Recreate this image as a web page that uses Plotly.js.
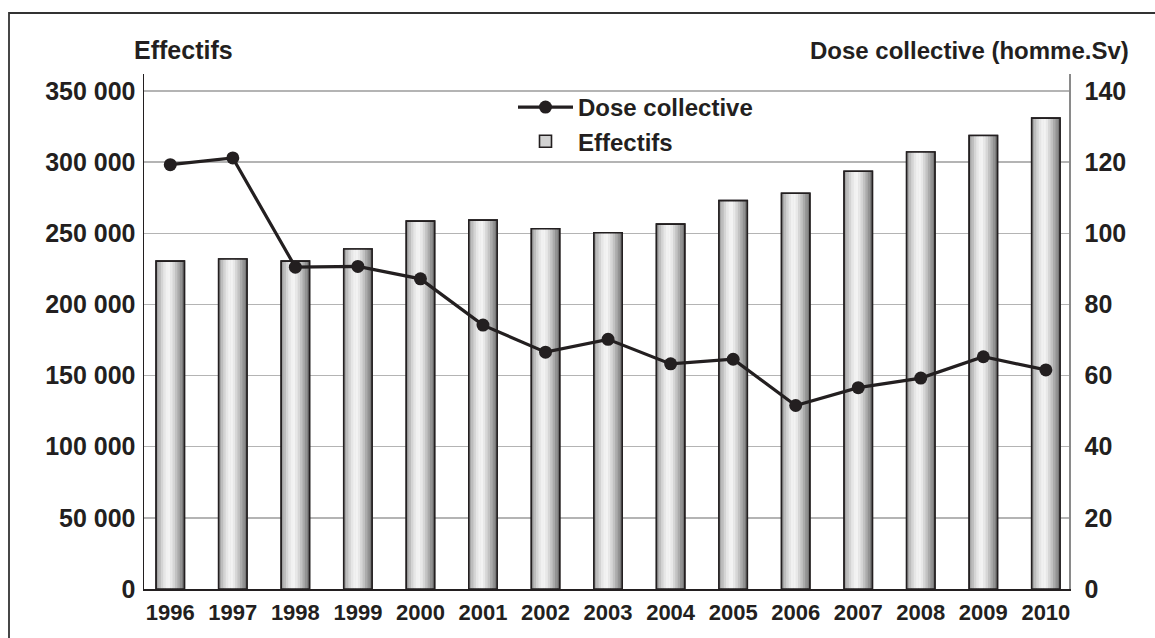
<!DOCTYPE html>
<html>
<head>
<meta charset="utf-8">
<script src="https://cdn.plot.ly/plotly-3.0.1.min.js"></script>
<style>html,body{margin:0;padding:0;background:#fff;}#chart{width:1155px;height:638px;}</style>
</head>
<body>
<div id="chart"></div>
<script>
// ---- data ----
var years = ['1996','1997','1998','1999','2000','2001','2002','2003','2004','2005','2006','2007','2008','2009','2010'];
var effectifs = [230500, 232000, 230500, 239000, 258600, 259300, 253200, 250400, 256500, 273000, 278200, 293600, 307200, 318800, 331000];
var dose = [119.3, 121.2, 90.5, 90.7, 87.2, 74.2, 66.6, 70.2, 63.3, 64.6, 51.6, 56.6, 59.3, 65.3, 61.6];
var leftTickVals = [0, 50000, 100000, 150000, 200000, 250000, 300000, 350000];
var leftTickText = ['0', '50 000', '100 000', '150 000', '200 000', '250 000', '300 000', '350 000'];
var rightTickVals = [0, 20, 40, 60, 80, 100, 120, 140];
var seriesNames = ['Dose collective', 'Effectifs'];
var titleLeft = 'Effectifs';
var titleRight = 'Dose collective (homme.Sv)';

// ---- style ----
var FONT = '"Liberation Sans", Arial, Helvetica, sans-serif';
var INK = '#231f20';
var barW = 0.452;
var stripColors = ['#a4a4a4','#bdbdbd','#d4d4d4','#e6e6e6','#f1f1f1','#f3f3f3','#e8e8e8','#d6d6d6','#c2c2c2','#ababab','#939393','#7a7a7a'];

var traces = [];
// base bar (legend entry)
traces.push({
  type: 'bar', x: years, y: effectifs, name: seriesNames[1], legendrank: 2,
  width: barW, marker: {color: '#d2d2d2', line: {color: INK, width: 1.6}},
  hoverinfo: 'skip'
});
// gradient strips
var n = stripColors.length, sw = barW / n;
for (var i = 0; i < n; i++) {
  traces.push({
    type: 'bar', x: years, y: effectifs, showlegend: false,
    width: sw + 0.004, offset: -barW / 2 + i * sw,
    marker: {color: stripColors[i], line: {width: 0}}, hoverinfo: 'skip'
  });
}
// outline on top
traces.push({
  type: 'bar', x: years, y: effectifs, showlegend: false,
  width: barW, marker: {color: 'rgba(0,0,0,0)', line: {color: INK, width: 1.6}},
  hoverinfo: 'skip'
});
// dose line
traces.push({
  type: 'scatter', mode: 'lines+markers', x: years, y: dose, yaxis: 'y2',
  name: seriesNames[0], legendrank: 1,
  line: {color: INK, width: 3.2}, marker: {color: INK, size: 13}
});

var W = 1155, H = 638, L = 144, R = 1069, T = 74, B = 589;
function px(x){ return (x - L) / (R - L); }
function py(y){ return (B - y) / (B - T); }

var layout = {
  width: W, height: H,
  margin: {l: L, r: W - R, t: T, b: H - B, pad: 0},
  paper_bgcolor: '#fff', plot_bgcolor: '#fff',
  barmode: 'overlay',
  showlegend: true,
  font: {family: FONT, color: INK, size: 24, weight: 'bold'},
  xaxis: {
    type: 'category', range: [-0.42, 14.37], showgrid: false, zeroline: false,
    showline: true, linecolor: INK, linewidth: 2, ticks: '', tickangle: 0,
    tickfont: {family: FONT, size: 22, color: INK, weight: 'bold'}, ticklabelstandoff: 3,
    fixedrange: true
  },
  yaxis: {
    range: [0, 362000], tickvals: leftTickVals, ticktext: leftTickText,
    showgrid: true, gridcolor: '#b4b4b4', gridwidth: 1.5, zeroline: false,
    showline: true, linecolor: INK, linewidth: 1.5, ticks: '',
    tickfont: {family: FONT, size: 25, color: INK, weight: 'bold'}, ticklabelstandoff: 2,
    fixedrange: true
  },
  yaxis2: {
    overlaying: 'y', side: 'right', range: [0, 144.8], tickvals: rightTickVals,
    showgrid: false, zeroline: false, showline: true, linecolor: '#8a8a8a', linewidth: 1.5,
    ticks: '', tickfont: {family: FONT, size: 25, color: INK, weight: 'bold'}, ticklabelstandoff: 9,
    fixedrange: true
  },
  legend: {
    x: px(513), y: py(85), xanchor: 'left', yanchor: 'top',
    bgcolor: 'rgba(255,255,255,0)', borderwidth: 0,
    font: {family: FONT, size: 24, color: INK, weight: 'bold'},
    tracegroupgap: 0, itemwidth: 55
  },
  annotations: [
    {text: titleLeft, xref: 'paper', yref: 'paper', x: px(132), y: py(50), xanchor: 'left', yanchor: 'middle', showarrow: false,
     font: {family: FONT, size: 25, color: INK, weight: 'bold'}},
    {text: titleRight, xref: 'paper', yref: 'paper', x: px(1131), y: py(50), xanchor: 'right', yanchor: 'middle', showarrow: false,
     font: {family: FONT, size: 24, color: INK, weight: 'bold'}}
  ],
  shapes: [
    {type: 'rect', xref: 'paper', yref: 'paper', x0: px(9), x1: px(1230), y0: py(700), y1: py(13),
     line: {color: '#333', width: 1.8}, fillcolor: 'rgba(0,0,0,0)', layer: 'above'}
  ]
};

Plotly.newPlot('chart', traces, layout, {displayModeBar: false, staticPlot: true});
</script>
</body>
</html>
